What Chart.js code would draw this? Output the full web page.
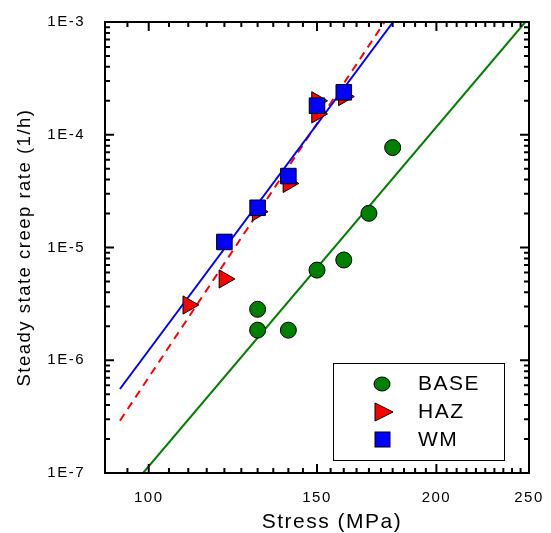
<!DOCTYPE html>
<html>
<head>
<meta charset="utf-8">
<script src="https://cdn.jsdelivr.net/npm/chart.js@4.4.1/dist/chart.umd.min.js"></script>
<style>
  html, body { margin: 0; padding: 0; background: #fff; }
  #wrap { width: 551px; height: 533px; }
</style>
</head>
<body>
<div id="wrap"><canvas id="creep" width="551" height="533"></canvas></div>
<script>
// measured points, stress in MPa, rate in 1/h
const baseStress = [130, 130, 140, 150, 160, 170, 180];
const baseRate = [2.83e-6, 1.85e-6, 1.85e-6, 6.3e-6, 7.75e-6, 2.01e-5, 7.7e-5];
const hazStress = [110, 120, 130, 140, 150, 150, 160];
const hazRate = [3.09e-6, 5.26e-6, 2.08e-5, 3.7e-5, 2.0e-4, 1.53e-4, 2.18e-4];
const wmStress = [120, 130, 140, 150, 160];
const wmRate = [1.12e-5, 2.25e-5, 4.3e-5, 1.81e-4, 2.38e-4];

// fitted lines (end points)
const wmFitStress = [93.3, 180.2];
const wmFitRate = [5.56e-7, 1e-3];
const hazFitStress = [93.3, 176.5];
const hazFitRate = [2.91e-7, 1e-3];
const baseFitStress = [98.65, 247.8];
const baseFitRate = [1e-7, 1e-3];

const xTickLabels = [100, 150, 200, 250];
const yTickLabels = [1e-7, 1e-6, 1e-5, 1e-4, 1e-3];

const GREEN = '#008000', RED = '#ff0000', BLUE = '#0000ff';
const FONT = '"Liberation Sans", Arial, sans-serif';

function pts(xs, ys) {
    return xs.map((x, i) => ({x: x, y: ys[i]}));
}

Chart.defaults.font.family = FONT;
Chart.defaults.color = '#000';

const frame = {
    id: 'frame',
    beforeDraw(chart) {
        chart.ctx.letterSpacing = '1.5px';
    },
    afterDatasetsDraw(chart) {
        const ctx = chart.ctx;
        const a = chart.chartArea;
        const xs = chart.scales.x, ys = chart.scales.y;
        ctx.save();
        ctx.strokeStyle = '#000';
        ctx.lineWidth = 2;
        ctx.strokeRect(a.left, a.top, a.right - a.left, a.bottom - a.top);
        ctx.beginPath();
        // x ticks every 5 MPa, inward, bottom and top
        for (let v = 90; v <= 250; v += 5) {
            const p = xs.getPixelForValue(v);
            const len = xTickLabels.includes(v) ? 9 : 5;
            ctx.moveTo(p, a.bottom); ctx.lineTo(p, a.bottom - len);
            ctx.moveTo(p, a.top); ctx.lineTo(p, a.top + len);
        }
        // y ticks, decades and 2..9
        for (let d = -7; d <= -3; d++) {
            for (let m = 1; m <= 9; m++) {
                if (d === -3 && m > 1) break;
                const p = ys.getPixelForValue(m * Math.pow(10, d));
                const len = m === 1 ? 9 : 5;
                ctx.moveTo(a.left, p); ctx.lineTo(a.left + len, p);
                ctx.moveTo(a.right, p); ctx.lineTo(a.right - len, p);
            }
        }
        ctx.stroke();

        // x axis title (sits a bit right of centre in the original)
        ctx.fillStyle = '#000';
        ctx.font = '21px ' + FONT;
        ctx.textAlign = 'center';
        ctx.textBaseline = 'alphabetic';
        ctx.fillText('Stress (MPa)', 332, 528);

        // legend
        ctx.fillStyle = '#fff';
        ctx.fillRect(333, 363, 171, 97);
        ctx.lineWidth = 1;
        ctx.strokeRect(333.5, 363.5, 171, 97);

        ctx.fillStyle = GREEN;
        ctx.beginPath();
        ctx.ellipse(382, 384, 8, 7, 0, 0, Math.PI * 2);
        ctx.fill(); ctx.stroke();

        ctx.fillStyle = RED;
        ctx.beginPath();
        ctx.moveTo(393, 412); ctx.lineTo(375, 403); ctx.lineTo(375, 421);
        ctx.closePath();
        ctx.fill(); ctx.stroke();

        ctx.fillStyle = BLUE;
        ctx.fillRect(375, 432, 15, 15);
        ctx.strokeRect(375, 432, 15, 15);

        ctx.fillStyle = '#000';
        ctx.font = '21px ' + FONT;
        ctx.textBaseline = 'middle';
        ctx.textAlign = 'left';
        ctx.fillText('BASE', 418, 384);
        ctx.fillText('HAZ', 418, 412);
        ctx.fillText('WM', 418, 440);
        ctx.restore();
    }
};

new Chart(document.getElementById('creep'), {
    type: 'scatter',
    data: {
        datasets: [
            {
                label: 'WM', data: pts(wmStress, wmRate),
                pointStyle: 'rect', pointRadius: 11, backgroundColor: BLUE,
                borderColor: '#000', borderWidth: 1
            },
            {
                label: 'HAZ', data: pts(hazStress, hazRate),
                pointStyle: 'triangle', rotation: 90, pointRadius: 10.5, backgroundColor: RED,
                borderColor: '#000', borderWidth: 1
            },
            {
                label: 'BASE', data: pts(baseStress, baseRate),
                pointStyle: 'circle', pointRadius: 8, backgroundColor: GREEN,
                borderColor: '#000', borderWidth: 1
            },
            {
                label: 'WM fit', data: pts(wmFitStress, wmFitRate), showLine: true,
                pointRadius: 0, borderColor: BLUE, borderWidth: 2
            },
            {
                label: 'HAZ fit', data: pts(hazFitStress, hazFitRate), showLine: true,
                pointRadius: 0, borderColor: RED, borderWidth: 2, borderDash: [8, 6]
            },
            {
                label: 'BASE fit', data: pts(baseFitStress, baseFitRate), showLine: true,
                pointRadius: 0, borderColor: GREEN, borderWidth: 2
            }
        ]
    },
    options: {
        responsive: false,
        animation: false,
        devicePixelRatio: 1,
        layout: {padding: {top: 22, right: 22, left: 0, bottom: 0}},
        plugins: {legend: {display: false}, tooltip: {enabled: false}},
        scales: {
            x: {
                type: 'logarithmic', min: 90, max: 250,
                grid: {display: false}, border: {display: false},
                afterBuildTicks: s => { s.ticks = xTickLabels.map(v => ({value: v})); },
                afterFit: s => { s.height = 60; },
                ticks: {
                    autoSkip: false, maxRotation: 0, padding: 8,
                    font: {size: 15}, callback: v => String(v)
                },
                title: {display: false}
            },
            y: {
                type: 'logarithmic', min: 1e-7, max: 1e-3,
                grid: {display: false}, border: {display: false},
                afterBuildTicks: s => { s.ticks = yTickLabels.map(v => ({value: v})); },
                afterFit: s => { s.width = 105; },
                ticks: {
                    autoSkip: false, padding: 12, font: {size: 15},
                    callback: v => '1E' + Math.round(Math.log10(v))
                },
                title: {display: true, text: 'Steady state creep rate (1/h)', font: {size: 18.5}, padding: {top: 14, bottom: 0}}
            }
        }
    },
    plugins: [frame]
});
</script>
</body>
</html>
